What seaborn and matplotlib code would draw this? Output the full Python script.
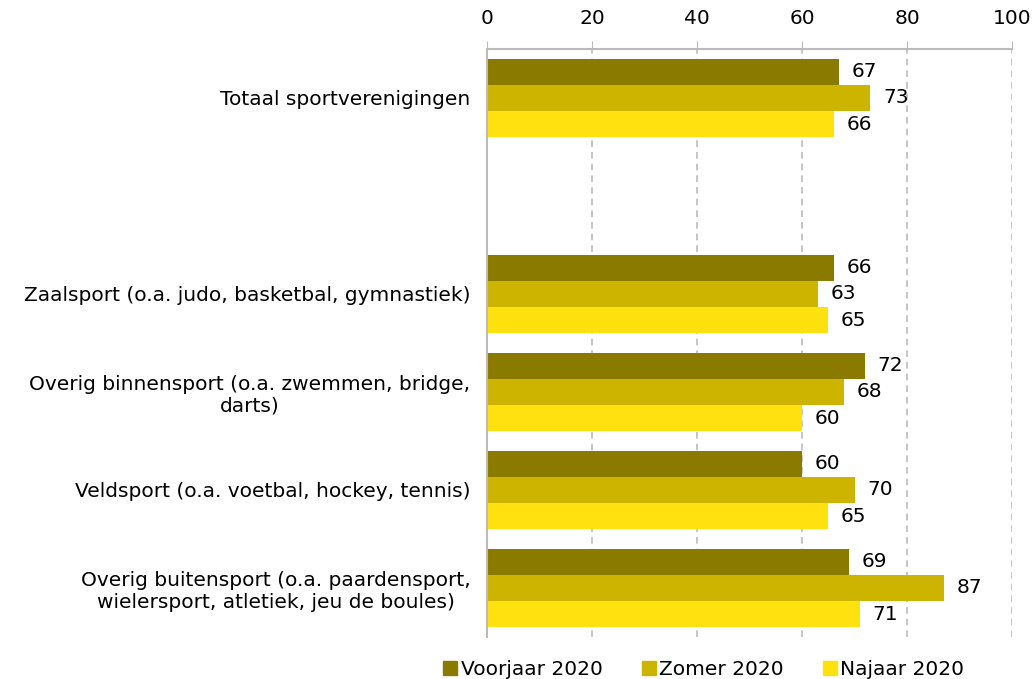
import pandas as pd
import numpy as np
import seaborn as sns
import matplotlib.pyplot as plt
from matplotlib.lines import Line2D

# Data
categories = ['Totaal sportverenigingen', ' ',
              'Zaalsport (o.a. judo, basketbal, gymnastiek)',
              'Overig binnensport (o.a. zwemmen, bridge,\ndarts)',
              'Veldsport (o.a. voetbal, hockey, tennis)',
              'Overig buitensport (o.a. paardensport,\nwielersport, atletiek, jeu de boules)']
seasons = ['Voorjaar 2020', 'Zomer 2020', 'Najaar 2020']
voorjaar = [67, None, 66, 72, 60, 69]
zomer = [73, None, 63, 68, 70, 87]
najaar = [66, None, 65, 60, 65, 71]
colors = ['#8B7A00', '#CCB400', '#FFE110']

rows = []
for s, vals in zip(seasons, [voorjaar, zomer, najaar]):
    for c, v in zip(categories, vals):
        if v is not None:
            rows.append({'categorie': c, 'seizoen': s, 'waarde': v})
df = pd.DataFrame(rows)

sns.set_style('white')
plt.rcParams['font.family'] = ['DejaVu Sans']
plt.rcParams['text.color'] = 'black'

fig = plt.figure(figsize=(10.34, 6.79), dpi=100)
ax = fig.add_axes([0.471, 0.062, 0.508, 0.866])
sns.barplot(data=df, y='categorie', x='waarde', hue='seizoen', order=categories,
            hue_order=seasons, palette=colors, saturation=1, orient='h', width=0.8,
            linewidth=0, ax=ax, legend=False)

for cont in ax.containers:
    ax.bar_label(cont, fmt='%d', padding=9, fontsize=14.5, color='black')

ax.set_xlim(0, 100)
ax.set_ylim(5.5, -0.5)
ax.set_xticks(np.arange(0, 101, 20))
ax.xaxis.tick_top()
ax.tick_params(axis='x', which='major', length=6, color='#bbbbbb', labelsize=14.5,
               labelcolor='black', pad=9)
ax.set_yticks(range(len(categories)))
ax.set_yticklabels(categories, fontsize=14.5, multialignment='center', color='black')
ax.tick_params(axis='y', which='major', length=0, pad=12)
ax.set_yticks(np.arange(-0.5, 6, 1), minor=True)
ax.tick_params(axis='y', which='minor', length=6, color='#bbbbbb')
ax.set_xlabel('')
ax.set_ylabel('')

ax.grid(axis='x', linestyle=(0, (4, 3)), color='#bbbbbb', linewidth=1.2)
ax.set_axisbelow(True)
for side in ['right', 'bottom']:
    ax.spines[side].set_visible(False)
for side in ['top', 'left']:
    ax.spines[side].set_color('#bbbbbb')
    ax.spines[side].set_linewidth(1.5)

handles = [Line2D([], [], marker='s', linestyle='', color=c, markersize=10) for c in colors]
fig.legend(handles, seasons, loc='lower center', bbox_to_anchor=(0.679, -0.027), ncol=3,
           frameon=False, fontsize=14.5, handletextpad=0.0, columnspacing=1.8,
           handlelength=1.0)

fig.savefig('out.png', dpi=100)
